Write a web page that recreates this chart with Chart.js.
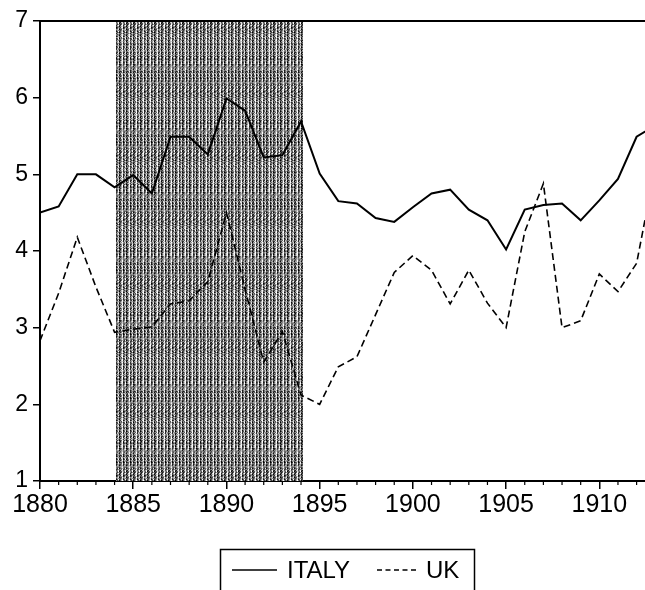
<!DOCTYPE html>
<html>
<head>
<meta charset="utf-8">
<script src="https://cdn.jsdelivr.net/npm/chart.js@4.4.1/dist/chart.umd.min.js"></script>
<style>
  body { margin: 0; background: #fff; }
  #wrap { width: 645px; height: 590px; position: relative; }
</style>
</head>
<body>
<div id="wrap"><canvas id="chart"></canvas></div>
<script>
const years = [1880, 1881, 1882, 1883, 1884, 1885, 1886, 1887, 1888, 1889,
               1890, 1891, 1892, 1893, 1894, 1895, 1896, 1897, 1898, 1899,
               1900, 1901, 1902, 1903, 1904, 1905, 1906, 1907, 1908, 1909,
               1910, 1911, 1912, 1913];
const italy = [4.50, 4.58, 5.00, 5.00, 4.83, 4.99, 4.75, 5.49, 5.49, 5.26,
               5.99, 5.83, 5.22, 5.25, 5.69, 5.01, 4.65, 4.62, 4.43, 4.38,
               4.57, 4.75, 4.80, 4.54, 4.40, 4.02, 4.54, 4.60, 4.62, 4.40,
               4.66, 4.94, 5.49, 5.64];
const uk = [2.83, 3.45, 4.18, 3.53, 2.94, 2.98, 3.01, 3.31, 3.35, 3.60,
            4.50, 3.50, 2.55, 2.95, 2.12, 2.00, 2.49, 2.62, 3.17, 3.72,
            3.94, 3.75, 3.31, 3.75, 3.32, 3.00, 4.25, 4.88, 3.00, 3.09,
            3.70, 3.47, 3.84, 5.10];
const xTicks = [1880, 1885, 1890, 1895, 1900, 1905, 1910];
const yTicks = [1, 2, 3, 4, 5, 6, 7];
const shaded = [1884, 1894];

const FONT = '"Liberation Sans", Arial, sans-serif';

const toPoints = vals => years.map((x, i) => ({ x: x, y: vals[i] }));

// speckled grey texture with vertical bands for the shaded period
const makePattern = ctx => {
    const base = [45, 95, 150, 245, 70, 125, 195];
    const w = base.length, h = 64;
    const c = document.createElement('canvas');
    c.width = w;
    c.height = h;
    const g = c.getContext('2d');
    const img = g.createImageData(w, h);
    for (let y = 0; y < h; y++) {
        for (let x = 0; x < w; x++) {
            let n = (x * 73856093) ^ (y * 19349663);
            n = ((n >>> 0) % 1000) / 1000;
            let v = base[x] + (n - 0.5) * 150;
            v = Math.max(0, Math.min(255, v));
            const k = (y * w + x) * 4;
            img.data[k] = img.data[k + 1] = img.data[k + 2] = v;
            img.data[k + 3] = 255;
        }
    }
    g.putImageData(img, 0, 0);
    return ctx.createPattern(c, 'repeat');
};

const shadePlugin = {
    id: 'shade',
    beforeDatasetsDraw(chart) {
        const { ctx, chartArea, scales } = chart;
        const x0 = scales.x.getPixelForValue(shaded[0]);
        const x1 = scales.x.getPixelForValue(shaded[1]);
        ctx.save();
        ctx.fillStyle = makePattern(ctx);
        ctx.fillRect(Math.round(x0) + 1, chartArea.top, Math.round(x1 - x0) + 1, chartArea.bottom - chartArea.top);
        ctx.restore();
    }
};

const framePlugin = {
    id: 'frame',
    afterDraw(chart) {
        const { ctx, chartArea, scales } = chart;
        ctx.save();
        ctx.strokeStyle = '#000';
        // top frame line
        ctx.lineWidth = 2;
        ctx.beginPath();
        ctx.moveTo(chartArea.left, chartArea.top);
        ctx.lineTo(chartArea.right, chartArea.top);
        ctx.stroke();
        // minor year ticks
        ctx.lineWidth = 1.2;
        ctx.beginPath();
        for (let yr = years[0]; yr <= years[years.length - 1]; yr++) {
            if (yr % 5 === 0) continue;
            const px = scales.x.getPixelForValue(yr);
            if (px > chartArea.right) break;
            ctx.moveTo(px, chartArea.bottom);
            ctx.lineTo(px, chartArea.bottom + 4);
        }
        ctx.stroke();

        // legend box
        const sets = chart.data.datasets;
        ctx.lineWidth = 1.5;
        ctx.strokeRect(220.5, 549.5, 254, 60);
        ctx.font = '24px ' + FONT;
        ctx.fillStyle = '#000';
        ctx.textBaseline = 'alphabetic';
        ctx.lineWidth = 1.6;
        ctx.beginPath();
        ctx.moveTo(232, 570);
        ctx.lineTo(277, 570);
        ctx.stroke();
        ctx.fillText(sets[0].label, 287, 578);
        ctx.setLineDash([5, 3.5]);
        ctx.beginPath();
        ctx.moveTo(377, 570);
        ctx.lineTo(419, 570);
        ctx.stroke();
        ctx.setLineDash([]);
        ctx.fillText(sets[1].label, 426, 578);
        ctx.restore();
    }
};

new Chart(document.getElementById('chart'), {
    type: 'line',
    data: {
        datasets: [{
            label: 'ITALY',
            data: toPoints(italy),
            borderColor: '#000',
            borderWidth: 2,
            pointRadius: 0,
            tension: 0
        }, {
            label: 'UK',
            data: toPoints(uk),
            borderColor: '#000',
            borderWidth: 1.6,
            borderDash: [7, 4],
            pointRadius: 0,
            tension: 0
        }]
    },
    options: {
        responsive: true,
        maintainAspectRatio: false,
        animation: false,
        layout: { padding: { top: 21, right: 0, left: 0, bottom: 0 } },
        plugins: {
            legend: { display: false },
            tooltip: { enabled: false }
        },
        scales: {
            x: {
                type: 'linear',
                min: 1880,
                max: 1912.45,
                afterBuildTicks: scale => { scale.ticks = xTicks.map(v => ({ value: v })); },
                afterFit: scale => { scale.height = 109; },
                ticks: {
                    color: '#000',
                    font: { size: 25, family: FONT },
                    padding: 1,
                    maxRotation: 0,
                    autoSkip: false,
                    callback: v => String(v)
                },
                grid: { drawOnChartArea: false, tickLength: 8, color: '#000', lineWidth: 1.5 },
                border: { display: true, color: '#000', width: 2 }
            },
            y: {
                min: 1,
                max: 7,
                afterBuildTicks: scale => { scale.ticks = yTicks.map(v => ({ value: v })); },
                afterFit: scale => { scale.width = 40; },
                ticks: {
                    color: '#000',
                    font: { size: 23, family: FONT },
                    padding: 5
                },
                grid: { drawOnChartArea: false, tickLength: 7, color: '#000', lineWidth: 1.5 },
                border: { display: true, color: '#000', width: 2 }
            }
        }
    },
    plugins: [shadePlugin, framePlugin]
});
</script>
</body>
</html>
